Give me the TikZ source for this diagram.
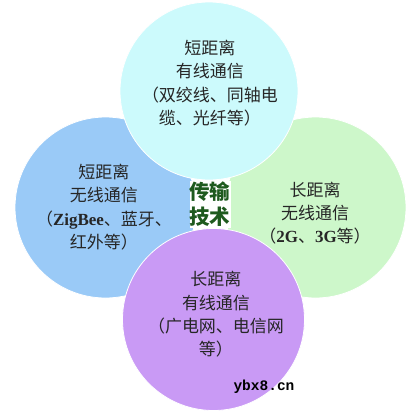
\documentclass[tikz,border=0pt]{standalone}
\usepackage{fontspec}
\setmainfont{Liberation Serif}
\newfontfamily\cjk{Noto Sans CJK SC}
\newfontfamily\wmfont{Liberation Mono}
\definecolor{topcyan}{HTML}{CCFAFC}
\definecolor{leftblue}{HTML}{9ACAF7}
\definecolor{rightgreen}{HTML}{CDF7CA}
\definecolor{bottompurple}{HTML}{C99AF5}
\definecolor{coregreen}{HTML}{1E5A1E}

\begin{document}
\begin{tikzpicture}[x=1pt,y=-1pt,
  disc/.style={circle,draw=white,line width=0.8pt,inner sep=0pt,minimum size=#1},
  txt/.style={align=center,text=black!85,font=\cjk\fontsize{17}{23.3}\selectfont}]
\useasboundingbox (0,0) rectangle (412,416);
% the four circles
\node[disc=181pt,fill=leftblue] (wlshort) at (105.5,207.5) {};
\node[disc=181pt,fill=rightgreen] (wllong) at (315.5,207.5) {};
\node[disc=178pt,fill=topcyan] (wdshort) at (209,91) {};
\node[disc=182pt,fill=bottompurple] (wdlong) at (213.5,319.5) {};
% texts
\node[txt] (wdshorttxt) at (210,83) {短距离\\有线通信\\（双绞线、同轴电\\缆、光纤等）};
\node[txt] (wlshorttxt) at (104,207) {短距离\\无线通信\\（{\rmfamily\bfseries ZigBee}、蓝牙、\\红外等）};
\node[txt] (wllongtxt) at (315,213) {长距离\\无线通信\\（{\rmfamily\bfseries 2G}、{\rmfamily\bfseries 3G}等）};
\node[txt] (wdlongtxt) at (216,314.5) {长距离\\有线通信\\（广电网、电信网\\等）};
\node[align=center,fill=white,inner xsep=0pt,inner ysep=1pt,text=coregreen,
  font=\cjk\bfseries\fontsize{20.5}{25}\selectfont] (core) at (210,204.5) {传输\\技术};
\node[font=\wmfont\bfseries\fontsize{14.5}{16}\selectfont] (mark) at (264,387) {ybx8.cn};
\end{tikzpicture}
\end{document}
